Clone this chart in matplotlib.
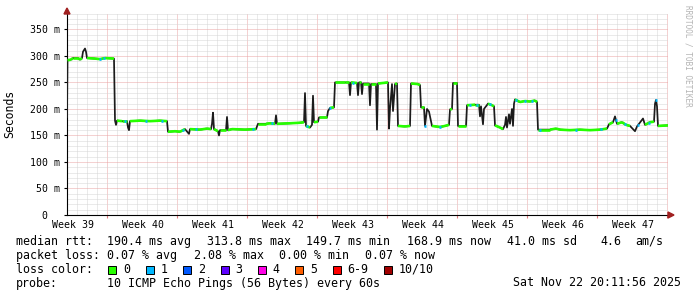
import numpy as np
import matplotlib
matplotlib.use('Agg')
import matplotlib.pyplot as plt
from matplotlib.collections import LineCollection
from matplotlib.patches import Polygon
from matplotlib.transforms import blended_transform_factory

W, H = 697, 297
MONO = 'DejaVu Sans Mono'

# median rtt: days since left edge / milliseconds
days = [0.0, 0.05, 0.4, 0.6, 1.1, 1.3, 1.5, 1.6, 1.8, 1.9, 2.0, 2.8, 3.3, 3.8, 4.7,
        4.8, 4.9, 5.0, 5.5, 6.0, 6.1, 6.2, 6.3, 7.3, 8.3, 9.3, 10.0,
        10.1, 10.8, 11.3, 11.8, 12.2, 12.3, 13.3, 14.0, 14.4, 14.5, 14.6, 14.7,
        15.1, 15.2, 15.3, 15.9, 16.0, 16.1, 16.5, 17.8, 18.9,
        19.1, 19.9, 20.3, 20.8, 20.9, 21.0, 22.3, 23.3, 23.7, 23.8, 23.9,
        24.3, 24.5, 24.6, 24.7, 25.1, 25.2, 26.0, 26.1, 26.3, 26.7,
        26.8, 27.8, 28.2, 28.3, 28.4, 29.0, 29.1, 29.2, 29.4, 29.5, 29.6,
        30.2, 30.3, 30.4, 30.9, 31.0, 31.1, 32.1, 32.2, 32.3, 32.5, 32.6,
        32.8, 33.0, 33.1, 33.8, 34.3, 34.4, 35.1, 35.3, 35.4, 35.7, 35.8,
        36.0, 36.2, 36.5, 37.3, 37.8, 38.2, 38.3, 38.5, 38.6, 39.0, 39.1,
        39.9, 40.0, 40.8, 41.2, 41.3, 41.4, 41.6, 41.7, 42.1, 42.5, 42.7,
        42.8, 43.3, 43.6, 43.8, 43.9, 44.0, 44.2, 44.3, 44.5, 44.6, 44.7,
        44.8, 45.3, 45.8, 46.3, 46.8, 47.0, 47.1, 48.3, 48.9, 49.3, 50.3,
        51.3, 52.3, 53.3, 54.0, 54.2, 54.6, 54.8, 55.0, 55.5, 55.9, 56.3,
        56.8, 57.0, 57.6, 57.8, 58.3, 58.7, 58.8, 58.9, 59.0, 59.1, 60.1]
rtt_ms = [185, 292, 293, 296, 296, 293, 296, 308, 314, 308, 296, 295, 294, 296, 295,
          178, 170, 178, 177, 177, 165, 160, 177, 178, 177, 178, 177,
          157, 158, 157, 162, 153, 162, 161, 163, 162, 172, 193, 162,
          158, 150, 160, 160, 185, 160, 162, 161, 162,
          172, 172, 173, 172, 188, 172, 173, 174, 175, 230, 168,
          165, 170, 225, 175, 176, 184, 184, 196, 202, 203,
          250, 250, 250, 226, 250, 249, 226, 250, 250, 228, 248,
          248, 207, 247, 247, 161, 248, 250, 163, 200, 247, 196,
          247, 248, 168, 167, 168, 248, 247, 245, 203, 203, 168,
          200, 195, 168, 166, 168, 170, 199, 200, 249, 249, 168,
          168, 207, 208, 208, 186, 205, 171, 200, 210, 207, 205,
          169, 165, 162, 170, 185, 165, 190, 172, 200, 168, 210,
          218, 213, 215, 214, 216, 213, 161, 161, 163, 161, 160,
          161, 160, 161, 163, 171, 175, 186, 172, 175, 170, 168,
          158, 167, 182, 170, 175, 176, 210, 217, 205, 168, 169]

# places where 1 of 10 pings was lost (blue marks)
loss1_days = [3.3, 3.7, 5.8, 7.9, 9.5, 11.6, 12.9, 18.6, 20.5, 24.0, 26.3, 28.6,
              35.8, 37.3, 40.3, 41.0, 42.3, 44.9, 45.8, 46.5, 47.3, 50.9, 53.4,
              54.9, 55.8, 57.1, 58.2, 58.9]

week_names = ['Week 39', 'Week 40', 'Week 41', 'Week 42', 'Week 43',
              'Week 44', 'Week 45', 'Week 46', 'Week 47']

loss_labels = ['0', '1', '2', '3', '4', '5', '6-9', '10/10']
loss_colors = ['#26ff00', '#00b8ff', '#0059ff', '#5e00ff', '#ff00e6', '#ff5e00',
               '#ff0000', '#a10000']

XMAX, YMAX = 60.1, 381

fig = plt.figure(figsize=(W / 100, H / 100), dpi=100)
ax = fig.add_axes([67 / W, 82 / H, 601 / W, 202 / H])
ax.set_xlim(0, XMAX)
ax.set_ylim(0, YMAX)
for s in ['top', 'right']:
    ax.spines[s].set_visible(False)
for s in ['left', 'bottom']:
    ax.spines[s].set_linewidth(0.8)
    ax.spines[s].set_color('black')

# grid
ax.set_yticks(np.arange(0, 351, 50))
ax.set_yticks(np.arange(0, YMAX, 10), minor=True)
ax.set_yticklabels(['0  '] + ['%d m' % v for v in range(50, 351, 50)],
                   family=MONO, fontsize=7.1)
week_bounds = np.arange(4, XMAX, 7)
ax.set_xticks(week_bounds)
ax.set_xticklabels([])
ax.set_xticks(np.arange(1, XMAX, 1), minor=True)
ax.tick_params(which='minor', length=0)
ax.tick_params(axis='y', which='major', length=2, width=0.8, pad=3, color='black')
ax.tick_params(axis='x', which='major', length=2, width=0.8, color='#e08080')
ax.grid(which='minor', color='#d6d6d6', ls=(0, (1, 1)), lw=0.72)
ax.grid(which='major', color='#eaa4a4', ls=(0, (1, 1)), lw=0.72)
ax.set_axisbelow(True)

# median line: dark where it jumps, loss colour where it runs flat
d = np.array(days)
v = np.array(rtt_ms)
ax.plot(d, v, color='#1c1c1c', lw=1.25, zorder=3)
px_x = np.diff(d) * 601 / XMAX
px_y = np.abs(np.diff(v)) * 202 / YMAX
segs = [[(d[i], v[i]), (d[i + 1], v[i + 1])] for i in range(len(d) - 1) if px_y[i] < px_x[i]]
ax.add_collection(LineCollection(segs, colors=loss_colors[0], linewidths=1.9, zorder=4))
blue = [[(x - 0.12, np.interp(x, d, v)), (x + 0.12, np.interp(x, d, v))] for x in loss1_days]
ax.add_collection(LineCollection(blue, colors=loss_colors[1], linewidths=1.9, zorder=5))

# week labels, centred on each week
tr = blended_transform_factory(ax.transData, fig.transFigure)
for i, name in enumerate(week_names):
    ax.text(week_bounds[0] - 3.45 + 7 * i, 1 - 224.5 / H, name, transform=tr,
            ha='center', va='center', family=MONO, fontsize=7.1)

# axis arrows
def px(x, y):
    return (x / W, 1 - y / H)

fig.patches.append(Polygon([px(64, 14), px(70, 14), px(67, 8)], closed=True,
                           transform=fig.transFigure, color='#a02020'))
fig.patches.append(Polygon([px(668, 212), px(668, 218), px(674, 215)], closed=True,
                           transform=fig.transFigure, color='#a02020'))

fig.text(10 / W, 1 - 114 / H, 'Seconds', rotation=90, ha='center', va='center',
         family=MONO, fontsize=8.3)
fig.text(688 / W, 1 - 5 / H, 'RRDTOOL / TOBI OETIKER', rotation=-90, ha='center',
         va='top', family=MONO, fontsize=5.6, color='#b4b4b4')

# legend block
def txt(x, y, s):
    fig.text(x / W, 1 - y / H, s, ha='left', va='center', family=MONO, fontsize=8.35)

txt(16, 241.5, 'median rtt:')
txt(107.3, 241.5, '190.4 ms avg')
txt(206.7, 241.5, '313.8 ms max')
txt(306, 241.5, '149.7 ms min')
txt(407.3, 241.5, '168.9 ms now')
txt(506.7, 241.5, '41.0 ms sd')
txt(600, 241.5, '4.6')
txt(635, 241.5, 'am/s')

txt(16, 255.5, 'packet loss:')
txt(107.3, 255.5, '0.07 % avg')
txt(194, 255.5, '2.08 % max')
txt(279.3, 255.5, '0.00 % min')
txt(365, 255.5, '0.07 % now')

txt(16, 269.5, 'loss color:')
x = 108.3
for lab, col in zip(loss_labels, loss_colors):
    fig.patches.append(Polygon([px(x, 266), px(x + 8, 266), px(x + 8, 274), px(x, 274)],
                               closed=True, transform=fig.transFigure,
                               facecolor=col, edgecolor='black', lw=0.7))
    txt(x + 15, 269.5, lab)
    x = x + 15 + 7 * len(lab) + 15.4

txt(16, 283, 'probe:')
txt(107.3, 283, '10 ICMP Echo Pings (56 Bytes) every 60s')
txt(513.3, 283, 'Sat Nov 22 20:11:56 2025')

fig.savefig('out.png', dpi=100)
